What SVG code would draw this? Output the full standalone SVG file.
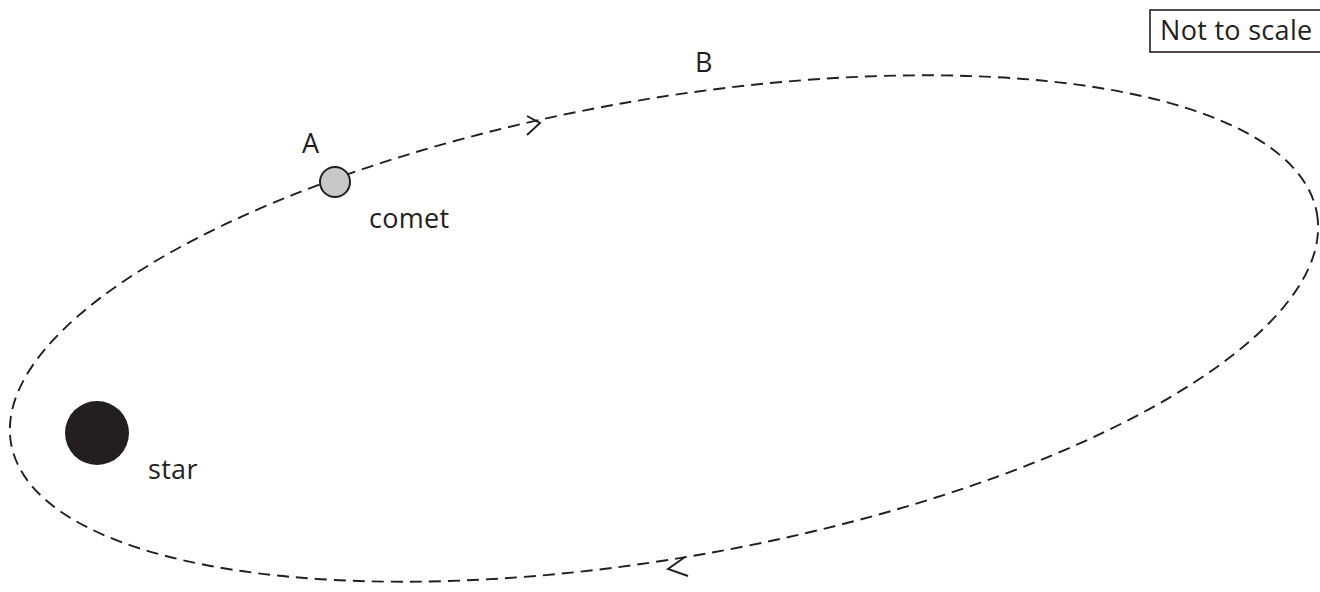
<svg xmlns="http://www.w3.org/2000/svg" width="1320" height="592" viewBox="0 0 1320 592">
<style>
.t{font-family:"Open Sans","Liberation Sans",sans-serif;font-size:27px;fill:#231f20;letter-spacing:0.3px}
.orbit{fill:none;stroke:#231f20;stroke-width:1.9;stroke-dasharray:12 7}
.head{fill:none;stroke:#231f20;stroke-width:1.9}
</style>
<rect width="1320" height="592" fill="#fff"/>
<g id="connectors">
<ellipse class="orbit" cx="664" cy="328.5" rx="663" ry="229" transform="rotate(-10 664 328.5)"/>
<polyline class="head" points="527,116 540,123 527,135"/>
<polyline class="head" points="685,557 668,569 688,576"/>
</g>
<g id="star">
<circle cx="97" cy="433" r="32" fill="#231f20"/>
<text class="t" x="148" y="479">star</text>
</g>
<g id="comet">
<circle cx="335" cy="182" r="15" fill="#c8c8c8" stroke="#231f20" stroke-width="2"/>
<text class="t" x="369" y="228">comet</text>
</g>
<g id="labelA"><text class="t" x="302" y="153">A</text></g>
<g id="labelB"><text class="t" x="695" y="72">B</text></g>
<g id="note">
<rect x="1150" y="10" width="172" height="42" fill="none" stroke="#231f20" stroke-width="1.6"/>
<text class="t" x="1160" y="40">Not to scale</text>
</g>
</svg>
